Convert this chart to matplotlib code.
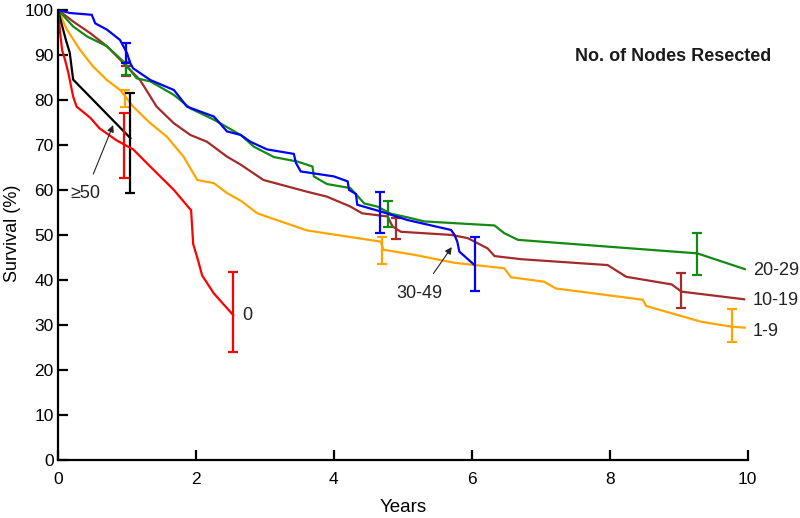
import matplotlib
matplotlib.use("Agg")
import matplotlib.pyplot as plt

# ---------------- data ----------------
red_t = [0, 0.03, 0.06, 0.1, 0.15, 0.22, 0.27, 0.47, 0.6, 0.85, 1.09, 1.35, 1.68, 1.9, 1.93, 1.96, 2.03, 2.09, 2.26, 2.54]
red_v = [100, 95, 91, 89, 86, 80.7, 78.5, 76, 73.7, 71, 69, 65, 60, 56, 55.5, 48, 44.4, 41, 37, 32.2]

black_t = [0, 0.05, 0.12, 0.17, 0.22, 1.05]
black_v = [100, 97, 93, 90.5, 84.5, 71.5]

blue_t = [0, 0.17, 0.49, 0.54, 0.71, 0.9, 1.0, 1.05, 1.09, 1.34, 1.68, 1.87, 2.26, 2.45, 2.65, 2.79, 3.03,
          3.42, 3.45, 3.52, 4.0, 4.2, 4.22, 4.32, 4.34, 4.68, 5.07, 5.7, 5.75, 5.79, 5.82, 6.04]
blue_v = [100, 99.3, 98.9, 97, 95.6, 93.3, 90.4, 88.1, 87, 84.4, 82.2, 78.5, 76.3, 73, 72.2, 70.7, 69,
          68, 66, 64.1, 63, 61.9, 60, 59.1, 56.7, 55.2, 53.3, 51.1, 50, 48.5, 46.3, 43.3]

green_t = [0, 0.22, 0.42, 0.71, 0.95, 1.14, 1.34, 1.68, 1.92, 2.26, 2.65, 2.84, 3.13, 3.47, 3.69, 3.71,
           3.9, 4.24, 4.44, 4.63, 4.83, 5.07, 5.31, 6.33, 6.47, 6.67, 9.27, 9.96]
green_v = [100, 96.3, 94.1, 91.9, 88.5, 84.8, 84.1, 81.1, 78.1, 75.6, 72.2, 69.6, 67.3, 66.3, 65.2, 63,
           61.3, 60.4, 57, 56.3, 54.7, 53.9, 53, 52.1, 50.4, 48.9, 45.9, 42.4]

brown_t = [0, 0.22, 0.47, 0.71, 1.0, 1.19, 1.43, 1.68, 1.92, 2.16, 2.45, 2.65, 2.98, 3.61, 3.9, 4.24,
           4.41, 4.78, 4.85, 4.97, 5.7, 5.94, 6.23, 6.33, 6.72, 7.97, 8.24, 8.9, 9.04, 9.95]
brown_v = [100, 97.4, 94.8, 91.9, 87.4, 84.4, 78.5, 74.8, 72.2, 70.7, 67.4, 65.6, 62.2, 59.6, 58.5, 56.3,
           54.8, 54.1, 51.9, 50.7, 50, 49.3, 47, 45.3, 44.6, 43.3, 40.7, 39, 37.4, 35.7]

orange_t = [0, 0.13, 0.32, 0.51, 0.71, 0.9, 1.09, 1.34, 1.58, 1.82, 2.02, 2.26, 2.45, 2.65, 2.89, 3.23,
            3.61, 4.34, 4.68, 4.72, 5.16, 5.75, 6.47, 6.57, 7.05, 7.22, 8.48, 8.53, 9.33, 9.77, 9.96]
orange_v = [100, 95.6, 91.1, 87.4, 84.4, 82.2, 78.5, 74.8, 71.8, 67.4, 62.2, 61.5, 59.3, 57.6, 54.8, 53,
            51, 49.3, 48.5, 46.7, 45.6, 43.8, 42.6, 40.6, 39.6, 38.1, 35.6, 34.2, 30.7, 29.6, 29.4]

# error bars: x, low, high
red_err_x = [0.95, 2.54];        red_err_lo = [62.7, 24];          red_err_hi = [77, 41.8]
black_err_x = [1.05];            black_err_lo = [59.3];            black_err_hi = [81.5]
orange_err_x = [0.97, 4.7, 9.77]; orange_err_lo = [78.5, 43.6, 26.1]; orange_err_hi = [82.1, 49.5, 33.5]
blue_err_x = [0.99, 4.67, 6.04]; blue_err_lo = [88.1, 50.4, 37.6]; blue_err_hi = [92.7, 59.6, 49.5]
green_err_x = [0.99, 4.78, 9.27]; green_err_lo = [85.6, 51.7, 41.1]; green_err_hi = [88.5, 57.6, 50.5]
brown_err_x = [0.99, 4.9, 9.04]; brown_err_lo = [85.3, 49.0, 33.7]; brown_err_hi = [87.5, 53.7, 41.5]

x_ticks = [0, 2, 4, 6, 8, 10]
y_ticks = [0, 10, 20, 30, 40, 50, 60, 70, 80, 90, 100]

# ---------------- plot ----------------
plt.rcParams['font.family'] = ['Liberation Sans Narrow', 'Liberation Sans', 'DejaVu Sans']

fig = plt.figure(figsize=(8.0, 5.18), dpi=100)
ax = fig.add_axes([0.0725, 0.112, 0.862, 0.869])

RED = '#ff0000'
BLACK = '#000000'
ORANGE = '#ffa500'
BLUE = '#0000ff'
GREEN = '#138a13'
BROWN = '#a52a2a'

series = [
    (orange_t, orange_v, ORANGE, orange_err_x, orange_err_lo, orange_err_hi),
    (brown_t, brown_v, BROWN, brown_err_x, brown_err_lo, brown_err_hi),
    (green_t, green_v, GREEN, green_err_x, green_err_lo, green_err_hi),
    (blue_t, blue_v, BLUE, blue_err_x, blue_err_lo, blue_err_hi),
    (black_t, black_v, BLACK, black_err_x, black_err_lo, black_err_hi),
    (red_t, red_v, RED, red_err_x, red_err_lo, red_err_hi),
]

for t, v, c, ex, elo, ehi in series:
    ax.plot(t, v, color=c, lw=1.6, solid_joinstyle='miter')
    mids = [(lo + hi) / 2 for lo, hi in zip(elo, ehi)]
    ax.errorbar(ex, mids, yerr=[[m - lo for m, lo in zip(mids, elo)], [hi - m for m, hi in zip(mids, ehi)]],
                fmt='none', ecolor=c, elinewidth=1.6, capsize=3.5, capthick=1.6)

ax.set_xlim(0, 10)
ax.set_ylim(0, 100)
ax.set_xticks(x_ticks)
ax.set_yticks(y_ticks)
for s in ['top', 'right']:
    ax.spines[s].set_visible(False)
for s in ['left', 'bottom']:
    ax.spines[s].set_linewidth(1.6)
ax.tick_params(axis='both', direction='in', length=7, width=1.6, labelsize=12.5, pad=3)
ax.tick_params(axis='x', pad=9)

ax.set_xlabel('Years', fontsize=13.5, labelpad=8)
fig.text(13 / 800, 0.55, 'Survival (%)', fontsize=13, rotation=90, ha='center', va='center')

txtc = '#222222'
ax.text(10.08, 42, '20-29', fontsize=13, color=txtc, va='center', ha='left', clip_on=False)
ax.text(10.08, 35.4, '10-19', fontsize=13, color=txtc, va='center', ha='left', clip_on=False)
ax.text(10.08, 28.5, '1-9', fontsize=13, color=txtc, va='center', ha='left', clip_on=False)
ax.text(2.67, 32, '0', fontsize=13, color=txtc, va='center', ha='left')

ax.annotate('≥50', xy=(0.80, 74.4), xytext=(0.40, 59.3), fontsize=13, color=txtc,
            ha='center', va='center',
            arrowprops=dict(arrowstyle='-|>', color='#222222', lw=0.8, shrinkA=6, shrinkB=0,
                            mutation_scale=10))
ax.annotate('30-49', xy=(5.71, 47.3), xytext=(5.24, 36.9), fontsize=13, color=txtc,
            ha='center', va='center',
            arrowprops=dict(arrowstyle='-|>', color='#222222', lw=0.8, shrinkA=8, shrinkB=0,
                            mutation_scale=10))

fig.text(0.841, 0.89, 'No. of Nodes Resected', fontsize=13, fontweight='bold', color='#1a1a1a',
         ha='center', va='center', family=['Liberation Sans', 'DejaVu Sans'])

fig.savefig('out.png', dpi=100)
